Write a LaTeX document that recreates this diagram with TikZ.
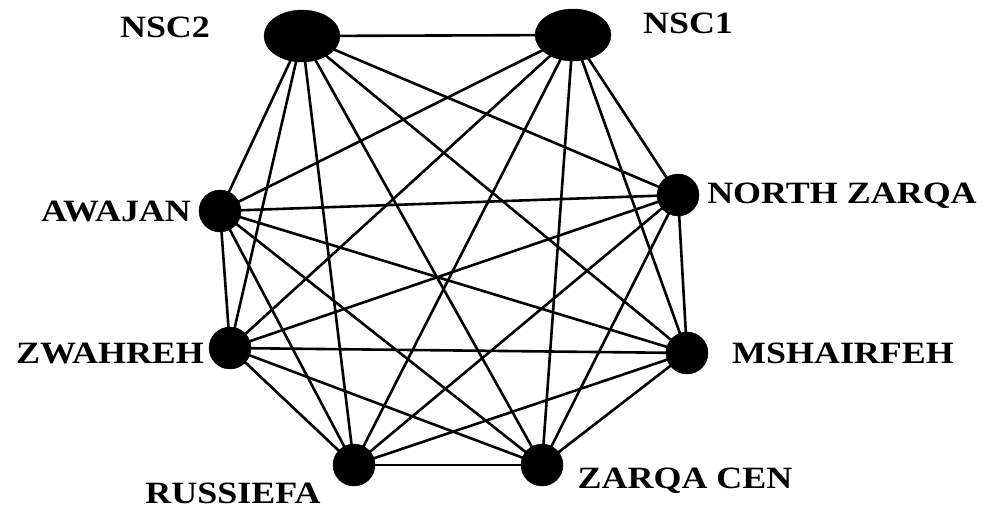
\documentclass[tikz,border=0pt]{standalone}
\usepackage{fontspec}
\setmainfont{Liberation Serif}
\usetikzlibrary{shapes.geometric}
\begin{document}
\begin{tikzpicture}[x=1pt,y=-1pt,
  dot/.style={circle,fill=black,draw=black,inner sep=0pt,minimum size=42pt},
  bigdot/.style={ellipse,fill=black,draw=black,inner sep=0pt,minimum width=76pt,minimum height=52pt},
  edge/.style={line width=2.6pt,black},
  lbl/.style={anchor=base,inner sep=0pt,font=\fontsize{31}{31}\selectfont\bfseries,xscale=1.16}]
\useasboundingbox (0,0) rectangle (990,512);
\node[bigdot] (nsc2) at (302,36) {};
\node[bigdot] (nsc1) at (573,35) {};
\node[dot] (awa) at (220,211) {};
\node[dot] (nz) at (678,195) {};
\node[dot] (zwa) at (230,348) {};
\node[dot] (msh) at (687,353) {};
\node[dot] (rus) at (354,465) {};
\node[dot] (zc) at (542,465) {};
\foreach \a/\b in {nsc2/nsc1,nsc2/awa,nsc2/nz,nsc2/zwa,nsc2/msh,nsc2/rus,nsc2/zc,
  nsc1/awa,nsc1/nz,nsc1/zwa,nsc1/msh,nsc1/rus,nsc1/zc,
  awa/nz,awa/zwa,awa/msh,awa/rus,awa/zc,
  nz/zwa,nz/msh,nz/rus,nz/zc,
  zwa/msh,zwa/rus,zwa/zc,
  msh/rus,msh/zc,
  rus/zc}
  \draw[edge] (\a.center) -- (\b.center);
\node[lbl] (lnsc2) at (165,37) {NSC2};
\node[lbl] (lnsc1) at (688,33) {NSC1};
\node[lbl] (lawa) at (116,221) {AWAJAN};
\node[lbl] (lnz) at (842,203) {NORTH ZARQA};
\node[lbl] (lzwa) at (110,363) {ZWAHREH};
\node[lbl] (lmsh) at (843,363) {MSHAIRFEH};
\node[lbl] (lrus) at (233,503) {RUSSIEFA};
\node[lbl] (lzc) at (685,488) {ZARQA CEN};
\end{tikzpicture}
\end{document}
